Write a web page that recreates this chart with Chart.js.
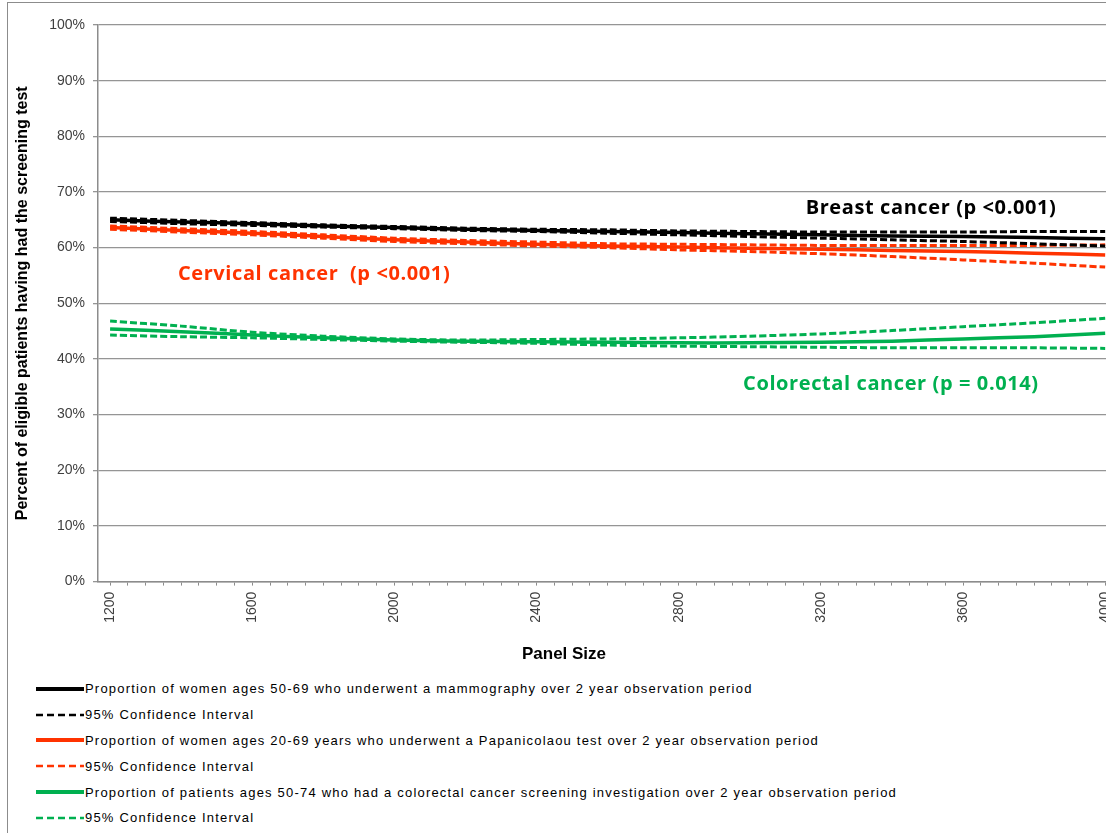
<!DOCTYPE html>
<html>
<head>
<meta charset="utf-8">
<script src="https://cdn.jsdelivr.net/npm/chart.js@4/dist/chart.umd.min.js"></script>
<style>
html, body { margin: 0; padding: 0; overflow: hidden; background: #fff; }
#frame { position: absolute; left: 7px; top: 2px; width: 1200px; height: 900px;
         border-left: 1px solid #8c8c8c; border-top: 1px solid #8c8c8c; }
#c { position: absolute; left: 0; top: 0; }
#legend { position: absolute; left: 28px; top: 673px; color: #000;
          font-family: 'Liberation Sans', Arial, sans-serif; font-size: 13px; letter-spacing: 1.2px; }
.row { height: 25.8px; display: flex; align-items: center; white-space: nowrap; }
.row svg { margin-right: 1px; }
</style>
</head>
<body>
<div id="frame">
  <canvas id="c" width="1120" height="668"></canvas>
  <div id="legend"></div>
</div>
<script>
// ---------------- data ----------------
const panelSize = [1200, 1400, 1600, 1800, 2000, 2200, 2400, 2600, 2800, 3000, 3200, 3400, 3600, 3800, 4000];

const breastRate  = [65.0, 64.6, 64.3, 63.9, 63.6, 63.3, 63.1, 62.9, 62.7, 62.5, 62.3, 62.1, 62.0, 61.8, 61.6];
const breastUpper = [65.3, 64.9, 64.5, 64.1, 63.8, 63.5, 63.3, 63.2, 63.0, 62.9, 62.8, 62.8, 62.8, 62.9, 62.9];
const breastLower = [64.7, 64.3, 64.0, 63.7, 63.4, 63.1, 62.9, 62.6, 62.3, 62.0, 61.7, 61.4, 61.1, 60.7, 60.3];

const cervicalRate  = [63.6, 63.1, 62.6, 62.0, 61.4, 61.0, 60.6, 60.3, 60.1, 59.9, 59.7, 59.5, 59.3, 59.0, 58.7];
const cervicalUpper = [63.9, 63.4, 62.9, 62.3, 61.7, 61.3, 61.0, 60.7, 60.6, 60.5, 60.4, 60.4, 60.4, 60.4, 60.5];
const cervicalLower = [63.3, 62.8, 62.3, 61.7, 61.1, 60.7, 60.3, 60.0, 59.6, 59.3, 58.9, 58.4, 57.8, 57.2, 56.5];

const colorectalRate  = [45.4, 44.9, 44.3, 43.8, 43.4, 43.2, 43.1, 43.0, 42.9, 42.9, 43.0, 43.2, 43.6, 44.0, 44.6];
const colorectalUpper = [46.8, 45.9, 44.8, 44.1, 43.6, 43.4, 43.5, 43.6, 43.8, 44.1, 44.5, 45.1, 45.8, 46.5, 47.3];
const colorectalLower = [44.3, 44.0, 43.8, 43.5, 43.2, 43.0, 42.8, 42.5, 42.3, 42.2, 42.1, 42.0, 42.0, 42.0, 41.9];

const legendLabels = [
    'Proportion of women ages 50-69 who underwent a mammography over 2 year observation period',
    '95% Confidence Interval',
    'Proportion of women ages 20-69 years who underwent a Papanicolaou test over 2 year observation period',
    '95% Confidence Interval',
    'Proportion of patients ages 50-74 who had a colorectal cancer screening investigation over 2 year observation period',
    '95% Confidence Interval'
];
const noteTexts = ['Breast cancer (p <0.001)', 'Cervical cancer  (p <0.001)', 'Colorectal cancer (p = 0.014)'];
const seriesColors = ['#000000', '#ff3300', '#00b050'];

// ---------------- build datasets ----------------
function pts(arr) {
    return arr.map((v, i) => ({ x: panelSize[i], y: v }));
}

const groups = [
    [breastRate, breastUpper, breastLower],
    [cervicalRate, cervicalUpper, cervicalLower],
    [colorectalRate, colorectalUpper, colorectalLower]
];

const datasets = [];
groups.forEach((g, k) => {
    datasets.push({ label: legendLabels[k * 2], data: pts(g[0]), borderColor: seriesColors[k],
        borderWidth: 3.5, pointRadius: 0, tension: 0.3, order: 2 });
    datasets.push({ label: legendLabels[k * 2 + 1], data: pts(g[1]), borderColor: seriesColors[k],
        borderWidth: 3, borderDash: [7, 3], pointRadius: 0, tension: 0.3, order: 1 });
    datasets.push({ label: legendLabels[k * 2 + 1], data: pts(g[2]), borderColor: seriesColors[k],
        borderWidth: 3, borderDash: [7, 3], pointRadius: 0, tension: 0.3, order: 1 });
});

// text notes anchored in data units (panel size, percent)
const notePlaces = [[3510, 67.1], [1774, 55.2], [3397, 35.4]];
const notesPlugin = {
    id: 'notes',
    afterDatasetsDraw(chart) {
        const ctx = chart.ctx;
        ctx.save();
        ctx.font = "bold 20px 'Open Sans', sans-serif";
        ctx.letterSpacing = '0.6px';
        ctx.textAlign = 'center';
        ctx.textBaseline = 'middle';
        noteTexts.forEach((t, i) => {
            ctx.fillStyle = seriesColors[i];
            ctx.fillText(t, chart.scales.x.getPixelForValue(notePlaces[i][0]),
                chart.scales.y.getPixelForValue(notePlaces[i][1]));
        });
        ctx.restore();
    }
};

Chart.defaults.font.family = "'Liberation Sans', Arial, sans-serif";

const chart = new Chart(document.getElementById('c'), {
    type: 'line',
    data: { datasets: datasets },
    options: {
        responsive: false,
        animation: false,
        layout: { padding: { top: 22, right: 8, left: 0, bottom: 0 } },
        plugins: {
            legend: { display: false },
            tooltip: { enabled: false },
            title: {
                display: true, text: 'Panel Size', position: 'bottom', color: '#000',
                font: { size: 17, weight: 'bold' }, padding: { top: 4, bottom: 6 }
            }
        },
        scales: {
            x: {
                type: 'linear', min: 1166, max: 4010,
                afterBuildTicks: s => {
                    const t = [];
                    for (let v = 1200; v <= 4000; v += 50) t.push({ value: v });
                    s.ticks = t;
                },
                afterFit: s => { s.height = 59; },
                ticks: {
                    autoSkip: false, minRotation: 90, maxRotation: 90, padding: 6,
                    color: '#404040', font: { size: 14 },
                    callback: v => (v % 400 === 0 ? String(v) : '')
                },
                grid: { drawOnChartArea: false, tickLength: 4, color: '#8c8c8c' },
                border: { color: '#8c8c8c', width: 1.5 }
            },
            y: {
                min: 0, max: 100,
                afterFit: s => { s.width = 90; },
                ticks: { stepSize: 10, padding: 8, color: '#404040', font: { size: 14 },
                    callback: v => v + '%' },
                grid: { color: '#959595', lineWidth: 1.3, tickLength: 5 },
                border: { color: '#8c8c8c', width: 1.5 },
                title: {
                    display: true, text: 'Percent of eligible patients having had the screening test',
                    color: '#000', font: { size: 16, weight: 'bold' }, padding: { top: 5, bottom: 4 }
                }
            }
        }
    },
    plugins: [notesPlugin]
});

// ---------------- legend (html, one row per entry) ----------------
const legendBox = document.getElementById('legend');
legendLabels.forEach((label, i) => {
    const color = seriesColors[Math.floor(i / 2)];
    const dashed = i % 2 === 1;
    const row = document.createElement('div');
    row.className = 'row';
    row.innerHTML =
        '<svg width="48" height="10"><line x1="0" y1="5" x2="48" y2="5" stroke="' + color + '" stroke-width="' +
        (dashed ? 2.5 : 4) + '"' + (dashed ? ' stroke-dasharray="7 4"' : '') + '/></svg>' +
        '<span>' + label + '</span>';
    legendBox.appendChild(row);
});
</script>
</body>
</html>
